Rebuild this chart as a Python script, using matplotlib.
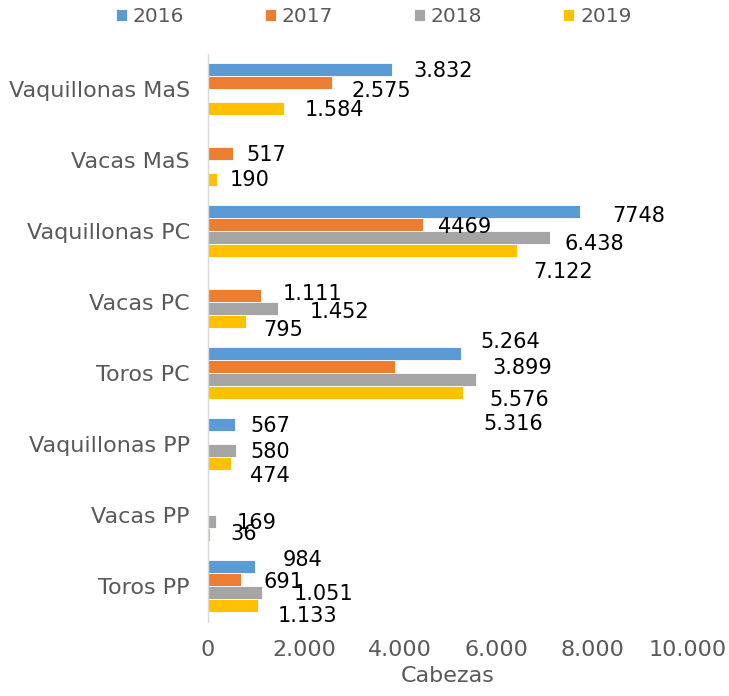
import matplotlib
matplotlib.use('Agg')
import matplotlib.pyplot as plt
import numpy as np

plt.rcParams['font.family'] = ['DejaVu Sans']

categorias = ['Vaquillonas MaS', 'Vacas MaS', 'Vaquillonas PC', 'Vacas PC',
              'Toros PC', 'Vaquillonas PP', 'Vacas PP', 'Toros PP']
anios = ['2016', '2017', '2018', '2019']

v2016 = [3832, 0, 7748, 0, 5264, 567, 0, 984]
v2017 = [2575, 517, 4469, 1111, 3899, 0, 0, 691]
v2018 = [0, 0, 7122, 1452, 5576, 580, 169, 1133]
v2019 = [1584, 190, 6438, 795, 5316, 474, 36, 1051]

# etiquetas tal como aparecen en el grafico original
lab2016 = ['3.832', '', '7748', '', '5.264', '567', '', '984']
lab2017 = ['2.575', '517', '4469', '1.111', '3.899', '', '', '691']
lab2018 = ['', '', '6.438', '1.452', '5.576', '580', '169', '1.051']
lab2019 = ['1.584', '190', '7.122', '795', '5.316', '474', '36', '1.133']

ticks = [0, 2000, 4000, 6000, 8000, 10000]
tick_labels = ['0', '2.000', '4.000', '6.000', '8.000', '10.000']

# desplazamiento de cada etiqueta (pixeles) respecto al extremo de la barra
off2016 = [(21, -1.5), None, (32, -5), None, (20, 12), (15, -2), None, (27, 6)]
off2017 = [(20, -8.5), (14, -1.5), (15.5, -2.5), (21, 1), (97, -2), None, None, (22, -2.5)]
off2018 = [None, None, (15, -7), (32, -3.5), (14, -20.5), (15, -1.5), (21, -1.5), (31, -1.5)]
off2019 = [(21, -2), (13, 0), (16, -22), (17, -8), (20, -31), (19, -13), (21, 0), (19, -10)]

colores = ['#5B9BD5', '#ED7D31', '#A5A5A5', '#FFC000']
series = [v2016, v2017, v2018, v2019]
etiquetas = [lab2016, lab2017, lab2018, lab2019]
offsets = [off2016, off2017, off2018, off2019]

fig = plt.figure(figsize=(7.29, 6.96), dpi=100)
ax = fig.add_axes([208/729, 1-621.5/696, 480/729, 568/696])

y = np.arange(len(categorias))
h = 13/71
for j in range(4):
    yy = y + (j - 1.5)*h
    ax.barh(yy, series[j], height=h, color=colores[j], edgecolor='white',
            linewidth=0.6, label=anios[j])
    for i in range(len(categorias)):
        if etiquetas[j][i] == '':
            continue
        dx, dy = offsets[j][i]
        ax.annotate(etiquetas[j][i], (series[j][i], yy[i]), xytext=(dx, dy),
                    textcoords='offset pixels', ha='left', va='center',
                    fontsize=15, color='black', annotation_clip=False)

ax.set_ylim(len(categorias) - 0.5, -0.5)
ax.set_xlim(0, 10000)
ax.set_yticks(y)
ax.set_yticklabels(categorias)
ax.set_xticks(ticks)
ax.set_xticklabels(tick_labels)
ax.tick_params(axis='both', length=0, labelsize=16, labelcolor='#595959')
ax.tick_params(axis='y', pad=13)
ax.tick_params(axis='x', pad=13)
ax.set_xlabel('Cabezas', fontsize=16, color='#595959', labelpad=5)

for s in ['top', 'right', 'bottom']:
    ax.spines[s].set_visible(False)
ax.spines['left'].set_color('#D9D9D9')
ax.spines['left'].set_linewidth(1)

fig.legend(loc='center', bbox_to_anchor=(373.5/729, 1-17/696), ncol=4,
           frameon=False, fontsize=14.5, labelcolor='#595959',
           handlelength=0.55, handleheight=0.55, handletextpad=0.3,
           columnspacing=4.0, borderpad=0)

fig.savefig('out.png', dpi=100)
